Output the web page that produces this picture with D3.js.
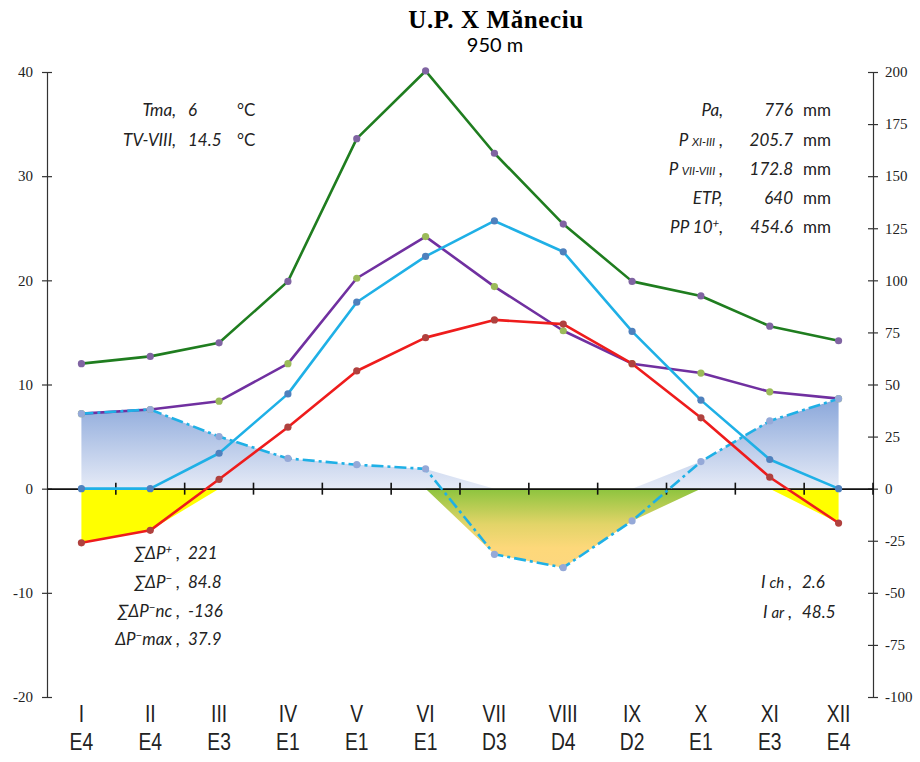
<!DOCTYPE html>
<html><head><meta charset="utf-8">
<script src="https://cdn.jsdelivr.net/npm/d3@7"></script>
<style>
html,body{margin:0;padding:0;background:#fff;}
svg{display:block;}
.ann{font-family:Lato,"Open Sans",sans-serif;font-style:italic;font-size:17px;fill:#222;}
.ax text{font-family:"Liberation Serif","Times New Roman",serif;font-size:15px;fill:#222;}
.xl{font-family:"Liberation Sans Narrow","Liberation Sans",Arial,sans-serif;font-size:23px;fill:#222;}
</style></head>
<body>
<svg id="c" width="920" height="762"></svg>
<script>
// ---------- data ----------
const months = ["I","II","III","IV","V","VI","VII","VIII","IX","X","XI","XII"];
const codes  = ["E4","E4","E3","E1","E1","E1","D3","D4","D2","E1","E3","E4"];
// mean monthly temperature, °C (left axis)
const tempC = [-5.2,-4.0,0.9,5.9,11.3,14.5,16.2,15.8,12.0,6.8,1.1,-3.3];
// precipitation at 1°C = 3 mm scale, °C units (left axis) – green
const precipScaled = [12.0,12.7,14.0,19.9,33.6,40.1,32.2,25.4,19.9,18.5,15.6,14.2];
// monthly precipitation, mm (right axis) – purple
const precipMm = [36,38,42,60,101,121,97,75.8,60,55.5,46.5,43.2];
// potential evapotranspiration, mm (right axis) – cyan
const etpMm = [0,0,17,45.5,89.5,111.5,128.5,113.7,75.5,42.5,14,0];
// water balance P - ETP, mm (right axis) – dash-dot
const deltaPMm = [36,38,25,14.5,11.5,9.5,-31.5,-37.9,-15.5,13,32.5,43.2];

const leftTicks = [40,30,20,10,0,-10,-20];
const rightTicks = [200,175,150,125,100,75,50,25,0,-25,-50,-75,-100];

const annTopLeft = [["Tma,","6","°C"],["TV-VIII,","14.5","°C"]];
const annTopRight = [
  [["Pa,"]],"776",
  [["P "],["XI-III","s"],[" ,"]],"205.7",
  [["P "],["VII-VIII","s"],[" ,"]],"172.8",
  [["ETP,"]],"640",
  [["PP 10"],["+","sup"],[","]],"454.6"
];
const annBottomLeft = [
  [["∑ΔP"],["+","sup"],[" ,"]],"221",
  [["∑ΔP"],["−","sup"],[" ,"]],"84.8",
  [["∑ΔP"],["−","sup"],["nc ,"]],"-136",
  [["ΔP"],["−","sup"],["max ,"]],"37.9"
];
const annBottomRight = [
  [["I "],["ch","s2"],[" ,"]],"2.6",
  [["I "],["ar","s2"],[" ,"]],"48.5"
];

// ---------- chart ----------
const svg = d3.select("#c");
const L = 47, R = 873, T = 72, B = 697;
const x = d3.scaleBand().domain(months).range([L,R]);
const cx = m => x(m) + x.bandwidth()/2;
const y = d3.scaleLinear().domain([-20,40]).range([B,T]);
const y2 = d3.scaleLinear().domain([-100,200]).range([B,T]);

const defs = svg.append("defs");
const gb = defs.append("linearGradient").attr("id","gBlue").attr("gradientUnits","userSpaceOnUse")
  .attr("x1",0).attr("x2",0).attr("y1",y2(43.2)).attr("y2",y2(0));
gb.append("stop").attr("offset",0).attr("stop-color","#8aa7da");
gb.append("stop").attr("offset",1).attr("stop-color","#e6ebf7");
const gd = defs.append("linearGradient").attr("id","gDef").attr("gradientUnits","userSpaceOnUse")
  .attr("x1",0).attr("x2",0).attr("y1",y2(0)).attr("y2",y2(-37.9));
gd.append("stop").attr("offset",0).attr("stop-color","#8cc43e");
gd.append("stop").attr("offset",0.45).attr("stop-color","#e2d468");
gd.append("stop").attr("offset",0.75).attr("stop-color","#fdd87a");
gd.append("stop").attr("offset",1).attr("stop-color","#fdd77e");

// areas
const idx = d3.range(12);
svg.append("path").datum(idx).attr("fill","url(#gBlue)")
  .attr("d", d3.area().x(i=>cx(months[i])).y0(y2(0)).y1(i=>y2(Math.max(0,deltaPMm[i]))));
svg.append("path").datum(idx).attr("fill","url(#gDef)")
  .attr("d", d3.area().x(i=>cx(months[i])).y0(y2(0)).y1(i=>y2(Math.min(0,deltaPMm[i]))));
svg.append("path").datum(idx).attr("fill","#ffff00")
  .attr("d", d3.area().x(i=>cx(months[i])).y0(y(0)).y1(i=>y(Math.min(0,tempC[i]))));

// left axis
const fmt = d => String(d);
const ga = svg.append("g").attr("class","ax").attr("transform",`translate(${L},0)`)
  .call(d3.axisLeft(y).tickValues(leftTicks).tickFormat(fmt).tickSize(5).tickPadding(9).tickSizeOuter(0));
ga.selectAll(".tick line").attr("x1",-5).attr("x2",5);
// right axis
const gr = svg.append("g").attr("class","ax").attr("transform",`translate(${R},0)`)
  .call(d3.axisRight(y2).tickValues(rightTicks).tickFormat(fmt).tickSize(5).tickPadding(7).tickSizeOuter(0));
gr.selectAll(".tick line").attr("x1",-5).attr("x2",5);
svg.selectAll(".ax .domain, .ax line").attr("stroke","#333").attr("stroke-width",1.2);

// x axis at zero
const gx = svg.append("g").attr("transform",`translate(0,${y(0)})`)
  .call(d3.axisBottom(x).tickSize(0).tickSizeOuter(0).tickFormat(""));
gx.select(".domain").attr("stroke","#111").attr("stroke-width",1.8);
svg.append("g").selectAll("line").data(d3.range(1,13)).join("line")
  .attr("x1",i=>L + i*x.step()).attr("x2",i=>L + i*x.step())
  .attr("y1",y(0)-6).attr("y2",y(0)+6).attr("stroke","#111").attr("stroke-width",1.6);

// x labels
svg.append("g").selectAll("text").data(months).join("text").attr("class","xl")
  .attr("transform",m=>`translate(${cx(m)},722) scale(0.84,1)`).attr("text-anchor","middle").text(m=>m);
svg.append("g").selectAll("text").data(codes).join("text").attr("class","xl")
  .attr("transform",(c,i)=>`translate(${cx(months[i])},750) scale(0.84,1)`).attr("text-anchor","middle").text(c=>c);

// lines
function drawLine(vals, scale, color, mcolor, dash){
  svg.append("path").datum(idx).attr("fill","none").attr("stroke",color).attr("stroke-width",2.6)
    .attr("stroke-linejoin","round").attr("stroke-dasharray",dash||null)
    .attr("d", d3.line().x(i=>cx(months[i])).y(i=>scale(vals[i])));
  svg.append("g").selectAll("circle").data(idx).join("circle")
    .attr("cx",i=>cx(months[i])).attr("cy",i=>scale(vals[i])).attr("r",3.6).attr("fill",mcolor);
}
drawLine(precipScaled, y, "#1f7d1f", "#8064a2");
drawLine(precipMm, y2, "#7030a0", "#9bbb59");
drawLine(etpMm, y2, "#1fb0e6", "#4f81bd");
drawLine(deltaPMm, y2, "#1fb0e6", "#95a9d8", "12,4,3,4");
drawLine(tempC, y, "#ee1c1c", "#b0413e");

// title
svg.append("text").attr("x",496).attr("y",28).attr("text-anchor","middle")
  .style("font-family","'Liberation Serif','DejaVu Serif',serif").style("font-weight","bold").style("font-size","25px")
  .style("letter-spacing","0.6px")
  .text("U.P. X Măneciu");
svg.append("text").attr("x",495).attr("y",52).attr("text-anchor","middle")
  .style("font-family","Lato,'Open Sans',sans-serif").style("font-size","20px").text("950 m");

// annotations
function richLabel(g, parts, xx, yy){
  const t = g.append("text").attr("class","ann").attr("x",xx).attr("y",yy).attr("text-anchor","end");
  parts.forEach((p,k)=>{
    const s = t.append("tspan").text(p[0]);
    if(p[1]==="s") s.style("font-size","11.5px");
    if(p[1]==="s2") s.style("font-size","15px");
    if(p[1]==="sup") s.style("font-size","11.5px").attr("dy",-6);
    if(k>0 && parts[k-1][1]==="sup") s.attr("dy",6);
  });
}
const ga2 = svg.append("g");
annTopLeft.forEach((r,i)=>{
  const yy = 116 + i*30;
  ga2.append("text").attr("class","ann").attr("x",176).attr("y",yy).attr("text-anchor","end").text(r[0]);
  ga2.append("text").attr("class","ann").attr("x",188).attr("y",yy).text(r[1]);
  ga2.append("text").attr("class","ann").attr("x",237).attr("y",yy).style("font-style","normal").text(r[2]);
});
for(let i=0;i<annTopRight.length/2;i++){
  const yy = [116,146,175,204,233][i];
  richLabel(ga2, annTopRight[2*i], 723, yy);
  ga2.append("text").attr("class","ann").attr("x",793).attr("y",yy).attr("text-anchor","end").text(annTopRight[2*i+1]);
  ga2.append("text").attr("class","ann").attr("x",803).attr("y",yy).style("font-style","normal").text("mm");
}
for(let i=0;i<annBottomLeft.length/2;i++){
  const yy = [559,588,617,645][i];
  richLabel(ga2, annBottomLeft[2*i], 180, yy);
  ga2.append("text").attr("class","ann").attr("x",188).attr("y",yy).text(annBottomLeft[2*i+1]);
}
for(let i=0;i<annBottomRight.length/2;i++){
  const yy = [588,618][i];
  richLabel(ga2, annBottomRight[2*i], 792, yy);
  ga2.append("text").attr("class","ann").attr("x",802).attr("y",yy).text(annBottomRight[2*i+1]);
}
</script>
</body></html>
